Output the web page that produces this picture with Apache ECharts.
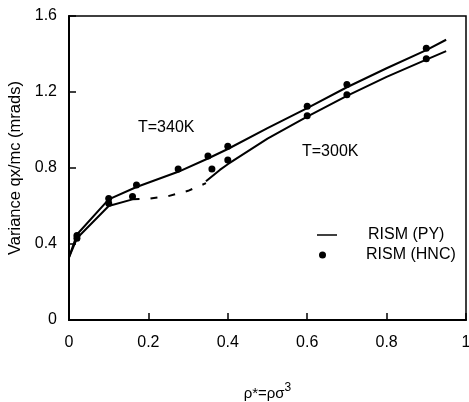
<!DOCTYPE html>
<html>
<head>
<meta charset="utf-8">
<script src="https://cdn.jsdelivr.net/npm/echarts@6/dist/echarts.min.js"></script>
<style>
  html, body { margin: 0; padding: 0; background: #fff; }
  #chart { width: 469px; height: 402px; }
</style>
</head>
<body>
<div id="chart"></div>
<script>
// Axis ticks
const xTicks = [0, 0.2, 0.4, 0.6, 0.8, 1];
const yTicks = [0, 0.4, 0.8, 1.2, 1.6];

// RISM (PY) curve, T = 340 K
const rho340Py = [0, 0.02, 0.1, 0.17, 0.275, 0.35, 0.4, 0.5, 0.6, 0.7, 0.8, 0.9, 0.95];
const var340Py = [0.33, 0.45, 0.635, 0.70, 0.78, 0.85, 0.90, 1.01, 1.115, 1.225, 1.325, 1.42, 1.475];

// RISM (PY) curve, T = 300 K: low-density branch, dashed gap, high-density branch
const rho300PyLow = [0, 0.02, 0.1, 0.16];
const var300PyLow = [0.33, 0.43, 0.60, 0.635];
const rho300PyGap = [0.16, 0.2, 0.25, 0.3, 0.345];
const var300PyGap = [0.635, 0.638, 0.652, 0.68, 0.72];
const rho300PyHigh = [0.345, 0.38, 0.4, 0.5, 0.6, 0.7, 0.8, 0.9, 0.95];
const var300PyHigh = [0.73, 0.79, 0.82, 0.955, 1.07, 1.18, 1.28, 1.37, 1.415];

// RISM (HNC) points
const rho340Hnc = [0.02, 0.1, 0.17, 0.275, 0.35, 0.4, 0.6, 0.7, 0.9];
const var340Hnc = [0.445, 0.64, 0.71, 0.795, 0.863, 0.915, 1.125, 1.24, 1.43];
const rho300Hnc = [0.02, 0.1, 0.16, 0.36, 0.4, 0.6, 0.7, 0.9];
const var300Hnc = [0.43, 0.615, 0.65, 0.795, 0.842, 1.075, 1.185, 1.375];

const pairs = (xs, ys) => xs.map((x, i) => [x, ys[i]]);
const FONT = '"Liberation Sans", Arial, Helvetica, sans-serif';
const INK = '#000';

const pyLine = (name, xs, ys, dashed) => ({
  name: name,
  type: 'line',
  data: pairs(xs, ys),
  symbol: 'none',
  color: INK,
  lineStyle: { color: INK, width: 2, type: dashed ? [7, 11] : 'solid' },
  z: 3
});
const hncDots = (name, xs, ys) => ({
  name: name,
  type: 'scatter',
  data: pairs(xs, ys),
  symbol: 'circle',
  symbolSize: 7,
  color: INK,
  itemStyle: { color: INK, opacity: 1 },
  z: 4
});

const chart = echarts.init(document.getElementById('chart'), null, { renderer: 'canvas' });
chart.setOption({
  animation: false,
  backgroundColor: '#fff',
  textStyle: { fontFamily: FONT, color: INK },
  grid: {
    left: 69, top: 16, width: 397, height: 304,
    outerBoundsMode: 'none', containLabel: false,
    show: true, borderColor: INK, borderWidth: 1.5, backgroundColor: 'transparent'
  },
  legend: [
    {
      data: [{ name: 'RISM (PY)', icon: 'rect' }],
      left: 317, top: 227,
      itemWidth: 20, itemHeight: 1.5,
      padding: 0,
      itemStyle: { opacity: 1 },
      textStyle: { fontFamily: FONT, fontSize: 16, color: INK, padding: [0, 0, 0, 26] }
    },
    {
      data: [{ name: 'RISM (HNC)', icon: 'circle' }],
      left: 319, top: 247,
      itemWidth: 7, itemHeight: 7,
      padding: 0,
      itemStyle: { opacity: 1 },
      textStyle: { fontFamily: FONT, fontSize: 16, color: INK, padding: [0, 0, 0, 35] }
    }
  ],
  xAxis: {
    type: 'value',
    min: xTicks[0], max: xTicks[xTicks.length - 1], interval: 0.2,
    name: '{a|ρ*=ρσ}{s|3}',
    nameLocation: 'middle', nameGap: 62,
    nameTextStyle: {
      rich: {
        a: { fontFamily: FONT, fontSize: 15, color: INK },
        s: { fontFamily: FONT, fontSize: 12, color: INK, padding: [0, 0, 12, 0] }
      }
    },
    axisLine: { show: true, lineStyle: { color: INK, width: 2 } },
    axisTick: { show: true, inside: true, length: 7, lineStyle: { color: INK, width: 1.5 } },
    axisLabel: { fontFamily: FONT, fontSize: 16, color: INK, margin: 15,
      formatter: v => String(+v.toFixed(1)) },
    splitLine: { show: false }
  },
  yAxis: {
    type: 'value',
    min: yTicks[0], max: yTicks[yTicks.length - 1], interval: 0.4,
    name: 'Variance qx/mc (mrads)',
    nameLocation: 'middle', nameGap: 42, nameRotate: 90,
    nameTextStyle: { fontFamily: FONT, fontSize: 16.5, color: INK },
    axisLine: { show: true, lineStyle: { color: INK, width: 2 } },
    axisTick: { show: true, inside: true, length: 7, lineStyle: { color: INK, width: 1.5 } },
    axisLabel: { fontFamily: FONT, fontSize: 16, color: INK, margin: 12,
      formatter: v => String(+v.toFixed(1)) },
    splitLine: { show: false }
  },
  graphic: [
    { type: 'text', left: 138, top: 120, style: { text: 'T=340K', font: '16px ' + FONT, fill: INK } },
    { type: 'text', left: 302, top: 144, style: { text: 'T=300K', font: '16px ' + FONT, fill: INK } }
  ],
  series: [
    pyLine('RISM (PY)', rho340Py, var340Py, false),
    pyLine('RISM (PY)', rho300PyLow, var300PyLow, false),
    pyLine('RISM (PY)', rho300PyGap, var300PyGap, true),
    pyLine('RISM (PY)', rho300PyHigh, var300PyHigh, false),
    hncDots('RISM (HNC)', rho340Hnc, var340Hnc),
    hncDots('RISM (HNC)', rho300Hnc, var300Hnc)
  ]
});
</script>
</body>
</html>
